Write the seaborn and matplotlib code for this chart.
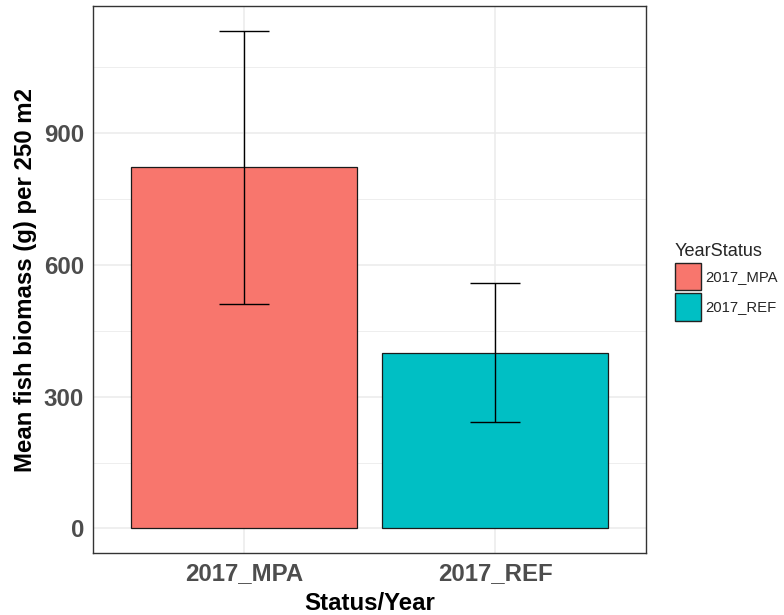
import matplotlib
matplotlib.use("Agg")
import matplotlib.pyplot as plt
import seaborn as sns
import pandas as pd
import numpy as np

# Mean fish biomass per site group with its standard error
categories = ["2017_MPA", "2017_REF"]
mean_biomass = [822, 400]
se_biomass = [311, 158]
y_ticks = [0, 300, 600, 900]
y_minor = [150, 450, 750, 1050]

palette = {"2017_MPA": "#F8766D", "2017_REF": "#00BFC4"}

df = pd.DataFrame({"YearStatus": categories, "biomass": mean_biomass, "se": se_biomass})

sns.set_theme(style="white")
plt.rcParams["font.family"] = ["Liberation Sans", "DejaVu Sans"]

fig = plt.figure(figsize=(7.84, 6.15), dpi=100)
ax = fig.add_axes([93.3 / 784, 1 - 553.3 / 615, (646 - 93.3) / 784, (553.3 - 6) / 615])

sns.barplot(data=df, x="YearStatus", y="biomass", hue="YearStatus", palette=palette,
            saturation=1, width=0.9, dodge=False, errorbar=None, legend=False,
            edgecolor="#1a1a1a", linewidth=0.9, ax=ax, zorder=3)

# error bars: mean +/- standard error
xpos = np.arange(len(categories))
ax.errorbar(xpos, df["biomass"], yerr=df["se"], fmt="none", ecolor="black",
            elinewidth=1.0, capsize=17.9, capthick=1.0, zorder=4)

# ggplot-like expansion of the scales
top = float(np.max(df["biomass"] + df["se"]))
ax.set_ylim(-0.05 * top, top * 1.05)
ax.set_xlim(-0.6, len(categories) - 1 + 0.6)

ax.set_yticks(y_ticks)
ax.set_yticks(y_minor, minor=True)
ax.set_yticklabels([str(v) for v in y_ticks])
ax.grid(True, which="major", color="#EBEBEB", linewidth=1.1, zorder=0)
ax.grid(True, which="minor", axis="y", color="#EBEBEB", linewidth=0.6, zorder=0)
ax.set_axisbelow(True)

for s in ax.spines.values():
    s.set_color("#333333")
    s.set_linewidth(1.0)

ax.tick_params(axis="both", which="major", length=3.4, width=0.8, color="#333333",
               labelsize=17.3, labelcolor="#4D4D4D", pad=3.2)
ax.tick_params(axis="y", which="minor", length=0)
for lab in ax.get_xticklabels() + ax.get_yticklabels():
    lab.set_fontweight("bold")

ax.set_xlabel("Status/Year", fontsize=17.3, fontweight="bold", color="black", labelpad=5)
ax.set_ylabel("Mean fish biomass (g) per 250 m2", fontsize=17.3, fontweight="bold",
              color="black", labelpad=5)

# legend keys: square fill swatches with dark outlines
handles = [plt.Rectangle((0, 0), 1, 1, facecolor=palette[c], edgecolor="#222222", linewidth=1.0)
           for c in categories]
fig.legend(handles, categories, title="YearStatus", loc="upper left",
           bbox_to_anchor=(675 / 784, 1 - 243 / 615), frameon=False, borderpad=0,
           borderaxespad=0, fontsize=10.7, title_fontsize=13.1, handlelength=1.75,
           handleheight=2.45, labelspacing=0.2, handletextpad=0.28, alignment="left")

fig.savefig("out.png", dpi=100)
